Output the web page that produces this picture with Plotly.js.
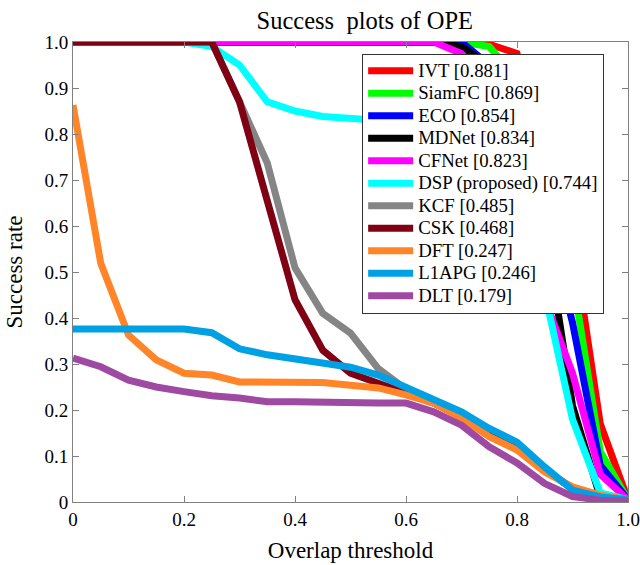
<!DOCTYPE html>
<html>
<head>
<meta charset="utf-8">
<script src="https://cdn.plot.ly/plotly-3.0.1.min.js"></script>
<style>html,body{margin:0;padding:0;background:#fff;}#chart{width:640px;height:565px;}</style>
</head>
<body>
<div id="chart"></div>
<script>
const thresholds = [0,0.05,0.1,0.15,0.2,0.25,0.3,0.35,0.4,0.45,0.5,0.55,0.6,0.65,0.7,0.75,0.8,0.85,0.9,0.95,1.0];

const names = ["IVT [0.881]","SiamFC [0.869]","ECO [0.854]","MDNet [0.834]","CFNet [0.823]","DSP (proposed) [0.744]","KCF [0.485]","CSK [0.468]","DFT [0.247]","L1APG [0.246]","DLT [0.179]"];

const IVT    = [1,1,1,1,1,1,1,1,1,1,1,1,1,1,1,0.995,0.975,0.78,0.575,0.17,0.005];
const SiamFC = [1,1,1,1,1,1,1,1,1,1,1,1,1,1,1,0.99,0.92,0.73,0.49,0.11,0.005];
const ECO    = [1,1,1,1,1,1,1,1,1,1,1,1,1,1,1,0.95,0.88,0.63,0.39,0.08,0.005];
const MDNet  = [1,1,1,1,1,1,1,1,1,1,1,1,1,1,0.99,0.95,0.81,0.60,0.21,0.01,0.005];
const CFNet  = [1,1,1,1,1,1,1,1,1,1,1,1,1,1,0.975,0.88,0.66,0.44,0.28,0.06,0.005];
const DSP    = [1,1,1,1,1,0.99,0.95,0.87,0.85,0.838,0.833,0.83,0.82,0.81,0.79,0.74,0.65,0.455,0.18,0.02,0.005];
const KCF    = [1,1,1,1,1,1,0.87,0.737,0.509,0.41,0.367,0.29,0.245,0.218,0.19,0.15,0.12,0.07,0.03,0.012,0.005];
const CSK    = [1,1,1,1,1,1,0.87,0.66,0.44,0.33,0.28,0.258,0.235,0.215,0.185,0.145,0.115,0.07,0.03,0.012,0.005];
const DFT    = [0.863,0.519,0.363,0.309,0.28,0.276,0.261,0.261,0.261,0.26,0.254,0.248,0.233,0.215,0.183,0.142,0.113,0.065,0.033,0.015,0.005];
const L1APG  = [0.376,0.376,0.376,0.376,0.376,0.368,0.333,0.32,0.31,0.302,0.293,0.276,0.25,0.222,0.196,0.16,0.13,0.076,0.026,0.011,0.005];
const DLT    = [0.313,0.294,0.265,0.25,0.24,0.231,0.226,0.218,0.218,0.216,0.216,0.215,0.215,0.196,0.167,0.12,0.085,0.04,0.012,0.004,0.002];

const xTickVals = [0,0.2,0.4,0.6,0.8,1.0];
const xTickText = ["0","0.2","0.4","0.6","0.8","1.0"];
const yTickVals = [0,0.1,0.2,0.3,0.4,0.5,0.6,0.7,0.8,0.9,1.0];
const yTickText = ["0","0.1","0.2","0.3","0.4","0.5","0.6","0.7","0.8","0.9","1.0"];

const series = [IVT,SiamFC,ECO,MDNet,CFNet,DSP,KCF,CSK,DFT,L1APG,DLT];
const colors = ["#ff0000","#00ff00","#0000ff","#000000","#ff00ff","#00ffff","#858585","#800014","#ff8528","#00a0e4","#9f4aa2"];

const traces = series.map((ys,i)=>({
  x: thresholds, y: ys, type:'scatter', mode:'lines',
  name: '<span style="font-size:18.8px">' + names[i] + '</span>',
  line:{color:colors[i], width:7}
}));

const font = "'Liberation Serif', 'DejaVu Serif', serif";
const layout = {
  width:640, height:565,
  margin:{l:73, r:12, t:42, b:63},
  paper_bgcolor:'#fff', plot_bgcolor:'#fff',
  font:{family:font, color:'#000', size:18},
  title:{text:"Success  plots of OPE", font:{family:font, size:24.5, color:'#000'}, x:0.57, xanchor:'center', y:0.964, yanchor:'middle'},
  xaxis:{range:[0,1], tickvals:xTickVals, ticktext:xTickText, ticks:'inside', ticklen:6, tickcolor:'#808080',
    showline:true, linecolor:'#808080', linewidth:1, mirror:'allticks', showgrid:false, zeroline:false,
    tickfont:{family:font, size:19}, title:{text:"Overlap threshold", font:{family:font, size:23}, standoff:13}},
  yaxis:{range:[0,1], tickvals:yTickVals, ticktext:yTickText, ticks:'inside', ticklen:6, tickcolor:'#808080',
    showline:true, linecolor:'#808080', linewidth:1, mirror:'allticks', showgrid:false, zeroline:false,
    tickfont:{family:font, size:19}, title:{text:"Success rate", font:{family:font, size:23}, standoff:15}},
  showlegend:true,
  legend:{x:0.521, y:0.975, xanchor:'left', yanchor:'top', bgcolor:'#fff', bordercolor:'#333', borderwidth:1,
    font:{family:font, size:15, color:'#000'}, itemwidth:45, tracegroupgap:0, traceorder:'normal'}
};

Plotly.newPlot('chart', traces, layout, {staticPlot:true, displayModeBar:false});
</script>
</body>
</html>
